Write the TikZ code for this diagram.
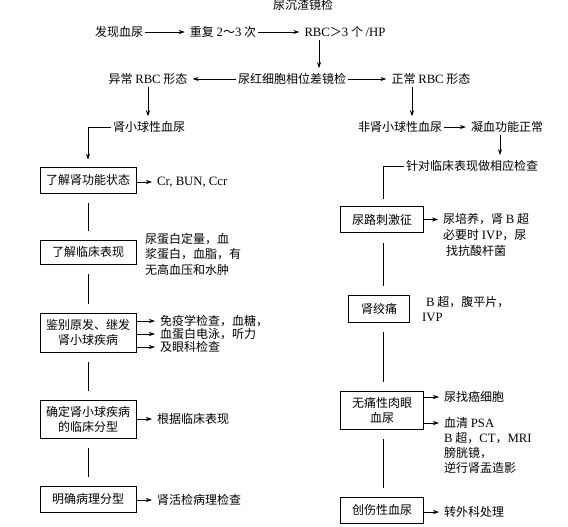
\documentclass[tikz,border=0pt]{standalone}
\usepackage{fontspec}
\setmainfont{Noto Sans CJK SC}
\newfontfamily\lat[Scale=1.06]{Liberation Serif}
\usetikzlibrary{arrows.meta}

\tikzset{
  every node/.style={font=\fontsize{12}{15}\selectfont, inner sep=2pt},
  box/.style={draw, line width=0.7pt, minimum width=96pt, minimum height=26pt, align=center},
  rbox/.style={box, minimum width=83pt},
  arr/.style={line width=0.6pt, -{Stealth[length=6pt, width=4pt]}, shorten >=3pt},
  gap/.style={line width=0.6pt, shorten <=10pt, shorten >=9pt},
  side/.style={anchor=west, align=left, font=\fontsize{12}{15}\selectfont},
}

\begin{document}
\begin{tikzpicture}[x=1pt, y=-1pt]
        \useasboundingbox (0,0) rectangle (568,527);

        % Top rows:
        \node (title) at (303,5) {尿沉渣镜检};
        \node (find) at (119,32) {发现血尿};
        \node (rep) at (223,32) {重复 {\lat 2}～{\lat 3} 次};
        \node (rbc) at (345,32) {{\lat RBC}＞{\lat 3} 个 {\lat /HP}};
        \node (phase) at (292,79) {尿红细胞相位差镜检};
        \node (abn) at (148,79) {异常 {\lat RBC} 形态};
        \node (nor) at (431,79) {正常 {\lat RBC} 形态};
        \node (glom) at (149,127) {肾小球性血尿};
        \node (nglom) at (400,127) {非肾小球性血尿};
        \node (coag) at (507,127) {凝血功能正常};
        \node (clin) at (472,166) {针对临床表现做相应检查};

        \draw[arr] (find.east) -- (rep.west);
        \draw[arr] (rep.east) -- (rbc.west);
        \draw[arr] (rbc.south -| 319,0) -- (phase.north -| 319,0);
        \draw[arr] (phase.west) -- (abn.east);
        \draw[arr] (phase.east) -- (nor.west);
        \draw[arr] (abn.south) -- (abn.south |- glom.north);
        \draw[arr] (nor.south -| 412,0) -- (nglom.north -| 412,0);
        \draw[arr] (nglom.east) -- (coag.west);
        \draw[arr] (coag.south -| 500,0) -- (clin.north -| 500,0);

        % Left column:
        \node[box] (kid) at (88,180) {了解肾功能状态};
        \node[box, minimum height=24pt] (sym) at (88,252) {了解临床表现};
        \node[box, minimum height=39pt, text width=84pt] (diff) at (88,332.5) {鉴别原发、继发\\肾小球疾病};
        \node[box, minimum height=38pt, text width=84pt] (type) at (88,419) {确定肾小球疾病\\的临床分型};
        \node[box] (path) at (88,499) {明确病理分型};

        \node[side] (kidt) at (155,182) {\lat Cr, BUN, Ccr};
        \node[side, font=\fontsize{12}{15.5}\selectfont] (symt) at (143,254) {尿蛋白定量，血\\浆蛋白，血脂，有\\无高血压和水肿};
        \node[side] (difta) at (158,321) {免疫学检查，血糖，};
        \node[side] (diftb) at (158,334) {血蛋白电泳，听力};
        \node[side] (diftc) at (158,347) {及眼科检查};
        \node[side] (typet) at (155,419) {根据临床表现};
        \node[side] (patht) at (155,500) {肾活检病理检查};

        \draw[arr, shorten >=7pt] (glom.west) -| (kid.north);
        \draw[gap] (kid) -- (sym);
        \draw[gap] (sym) -- (diff);
        \draw[gap] (diff) -- (type);
        \draw[gap] (type) -- (path);
        \draw[arr] (kid.east |- kidt) -- (kidt.west);
        \draw[arr] (diff.east |- difta) -- (difta.west);
        \draw[arr] (diff.east |- diftb) -- (diftb.west);
        \draw[arr] (diff.east |- diftc) -- (diftc.west);
        \draw[arr] (type.east |- typet) -- (typet.west);
        \draw[arr] (path.east |- patht) -- (patht.west);

        % Right column:
        \node[rbox] (uri) at (382,219.5) {尿路刺激征};
        \node[box, minimum width=61pt, minimum height=27pt] (colic) at (379,308.5) {肾绞痛};
        \node[rbox, minimum height=38pt, text width=71pt] (pain) at (382,410) {无痛性肉眼\\血尿};
        \node[rbox] (trau) at (382,510) {创伤性血尿};

        \node[side, anchor=north west, font=\fontsize{12}{16}\selectfont] (urit) at (441,211) {尿培养，肾 {\lat B} 超\\必要时 {\lat IVP}，尿\\\hspace{3pt}找抗酸杆菌};
        \node[side, anchor=north west] (colict) at (420,294) {\hspace{4pt}{\lat B} 超，腹平片，\\{\lat IVP}};
        \node[side] (paint) at (442,397) {尿找癌细胞};
        \node[side, anchor=north west] (painb) at (442,415) {血清 {\lat PSA}\\{\lat B} 超，{\lat CT}，{\lat MRI}\\膀胱镜，\\逆行肾盂造影};
        \node[side] (traut) at (442,512) {转外科处理};

        \draw[line width=0.6pt, shorten >=7pt] (clin.west) -| (uri.north -| 383,0);
        \draw[gap] (uri.south -| 383,0) -- (colic.north -| 383,0);
        \draw[gap] (colic.south -| 383,0) -- (pain.north -| 383,0);
        \draw[gap] (pain.south -| 383,0) -- (trau.north -| 383,0);
        \draw[arr] (uri.east) -- (uri.east -| urit.west);
        \draw[arr] (pain.east |- paint) -- (paint.west);
        \draw[arr] (pain.east |- 0,423) -- (painb.west |- 0,423);
        \draw[arr] (trau.east |- traut) -- (traut.west);
    \end{tikzpicture}
\end{document}
